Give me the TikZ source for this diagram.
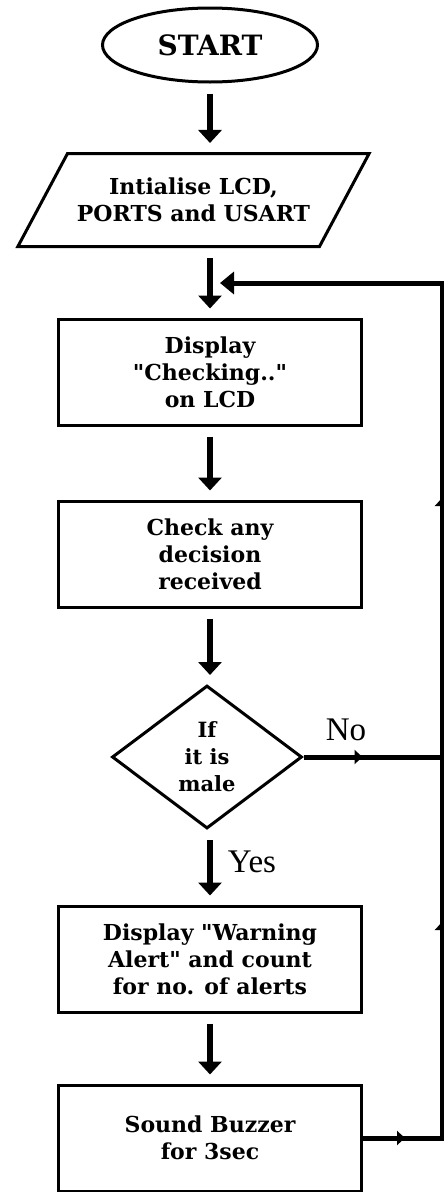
\documentclass[tikz,border=0pt]{standalone}
\usepackage{fontspec}
\setmainfont{DejaVu Serif}
\newfontfamily\ynfont{Liberation Serif}
\usetikzlibrary{shapes.geometric,arrows.meta,decorations.markings}

\begin{document}
\begin{tikzpicture}[x=1pt,y=-1pt,
                    box/.style={draw,line width=3pt,minimum width=303pt,minimum height=106pt,align=center,font=\fontsize{22}{27}\selectfont\bfseries},
                    edge/.style={line width=6pt,-{Triangle[width=23pt,length=13pt]},shorten <=10pt,shorten >=9pt},
                    backline/.style={line width=5pt},
                    midarrow/.style={postaction={decorate},decoration={markings,mark=at position #1 with {\arrow{Latex[length=9pt,width=16pt]}}}},
                    yn/.style={font=\ynfont\fontsize{33}{34}\selectfont}]
  \useasboundingbox (0,0) rectangle (444,1192);
  \node[draw,ellipse,line width=3pt,minimum width=215pt,minimum height=74pt,font=\fontsize{28}{30}\selectfont\bfseries] (start) at (210,45) {START};
  \node[draw,trapezium,trapezium left angle=47,trapezium right angle=133,trapezium stretches=true,line width=3pt,minimum width=353pt,minimum height=93pt,align=center,font=\fontsize{22}{27}\selectfont\bfseries] (init) at (193.5,200) {Intialise LCD,\\PORTS and USART};
  \node[box] (disp) at (210,372) {Display\\\textquotedbl Checking..\textquotedbl\\on LCD};
  \node[box] (check) at (210,554) {Check any\\decision\\received};
  \node[draw,diamond,line width=3pt,inner sep=0pt,minimum width=190pt,minimum height=143pt,align=center,font=\fontsize{21}{27}\selectfont\bfseries] (male) at (207,757) {If\\it is\\male};
  \node[box] (warn) at (210,959) {Display \textquotedbl Warning\\Alert\textquotedbl{} and count\\for no. of alerts};
  \node[box] (buzz) at (210,1138) {Sound Buzzer\\for 3sec};
  \node[yn] (yes) at (252,862) {Yes};
  \node[yn] (no) at (346,730) {No};
  \coordinate (fbbot) at (442,1138);
  \coordinate (fbtop) at (442,283);
  \coordinate (join) at (210,283);

  \draw[edge] (start.south -| disp.north) -- (init.north -| disp.north);
  \draw[edge] (init.south -| disp.north) -- (disp.north);
  \draw[edge] (disp) -- (check);
  \draw[edge] (check.south) -- (male.north -| check.south);
  \draw[edge] (male.south -| warn.north) -- (warn.north);
  \draw[edge] (warn) -- (buzz);
  \draw[backline,midarrow=60pt] (male.east) -- (male.east -| fbtop);
  \draw[backline,-{Triangle[width=22pt,length=14pt]},shorten >=10pt,
        postaction={decorate},decoration={markings,
          mark=at position 43pt with {\arrow{Latex[length=9pt,width=16pt]}},
          mark=at position 296pt with {\arrow{Latex[length=9pt,width=16pt]}},
          mark=at position 720pt with {\arrow{Latex[length=9pt,width=16pt]}}}]
        (buzz.east) -- (fbbot) -- (fbtop) -- (join);
\end{tikzpicture}
\end{document}
